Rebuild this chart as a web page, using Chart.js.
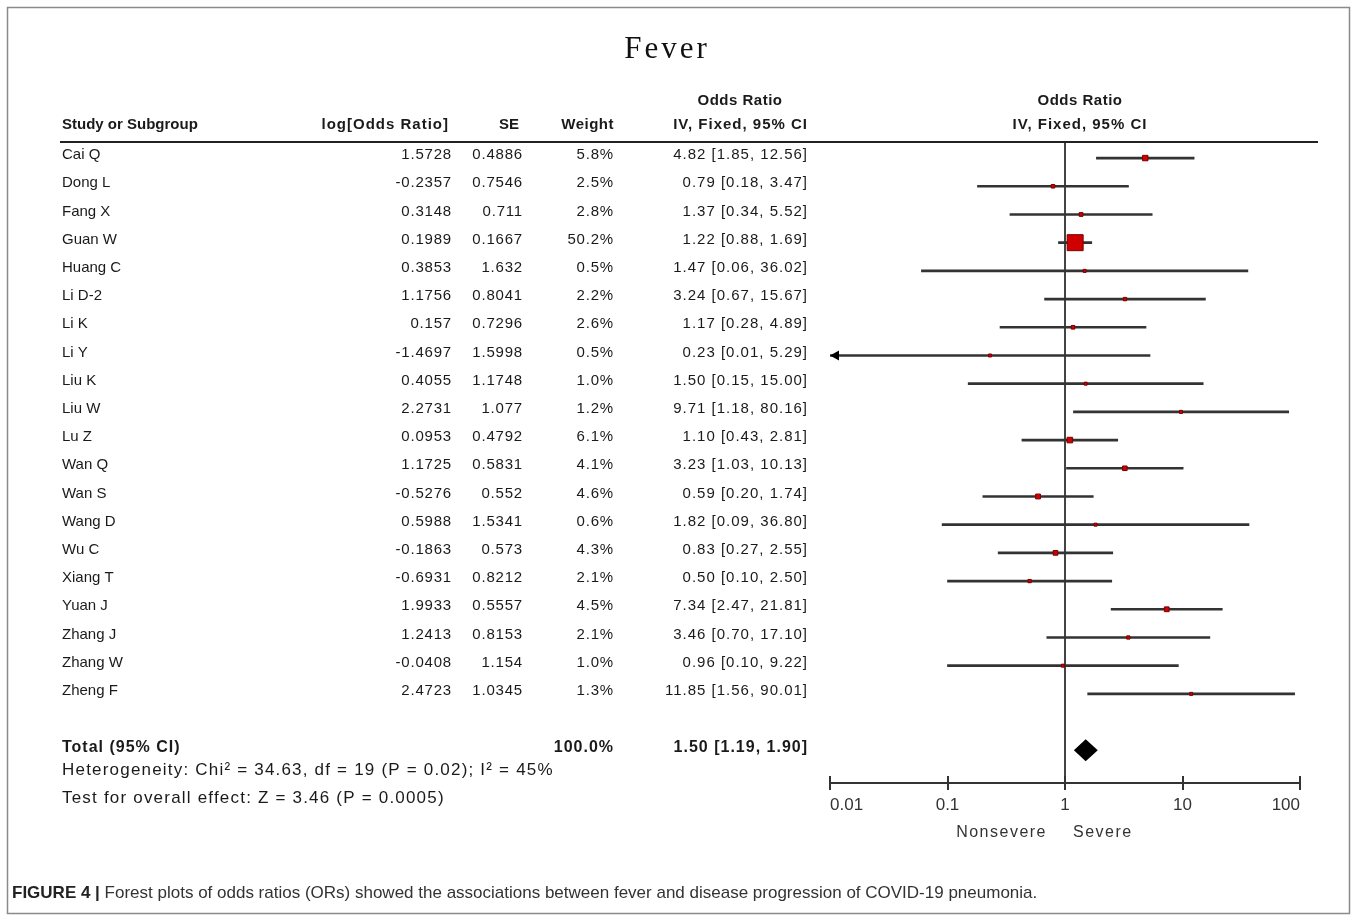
<!DOCTYPE html>
<html>
<head>
<meta charset="utf-8">
<script src="https://cdn.jsdelivr.net/npm/chart.js@4.4.1/dist/chart.umd.min.js"></script>
<style>
  html, body { margin: 0; padding: 0; background: #fff; }
</style>
</head>
<body>
<canvas id="forest" width="1357" height="920"></canvas>
<script>
// study data
const studies = ['Cai Q', 'Dong L', 'Fang X', 'Guan W', 'Huang C', 'Li D-2', 'Li K', 'Li Y', 'Liu K', 'Liu W',
  'Lu Z', 'Wan Q', 'Wan S', 'Wang D', 'Wu C', 'Xiang T', 'Yuan J', 'Zhang J', 'Zhang W', 'Zheng F'];
const logOR = [1.5728, -0.2357, 0.3148, 0.1989, 0.3853, 1.1756, 0.157, -1.4697, 0.4055, 2.2731,
  0.0953, 1.1725, -0.5276, 0.5988, -0.1863, -0.6931, 1.9933, 1.2413, -0.0408, 2.4723];
const se = [0.4886, 0.7546, 0.711, 0.1667, 1.632, 0.8041, 0.7296, 1.5998, 1.1748, 1.077,
  0.4792, 0.5831, 0.552, 1.5341, 0.573, 0.8212, 0.5557, 0.8153, 1.154, 1.0345];
const weight = [5.8, 2.5, 2.8, 50.2, 0.5, 2.2, 2.6, 0.5, 1.0, 1.2, 6.1, 4.1, 4.6, 0.6, 4.3, 2.1, 4.5, 2.1, 1.0, 1.3];
const oddsRatio = [4.82, 0.79, 1.37, 1.22, 1.47, 3.24, 1.17, 0.23, 1.50, 9.71,
  1.10, 3.23, 0.59, 1.82, 0.83, 0.50, 7.34, 3.46, 0.96, 11.85];
const ciLow = [1.85, 0.18, 0.34, 0.88, 0.06, 0.67, 0.28, 0.01, 0.15, 1.18,
  0.43, 1.03, 0.20, 0.09, 0.27, 0.10, 2.47, 0.70, 0.10, 1.56];
const ciHigh = [12.56, 3.47, 5.52, 1.69, 36.02, 15.67, 4.89, 5.29, 15.00, 80.16,
  2.81, 10.13, 1.74, 36.80, 2.55, 2.50, 21.81, 17.10, 9.22, 90.01];

const total = { label: 'Total (95% CI)', weight: 100.0, or: 1.50, low: 1.19, high: 1.90 };
const heterogeneity = 'Heterogeneity: Chi\u00b2 = 34.63, df = 19 (P = 0.02); I\u00b2 = 45%';
const overallTest = 'Test for overall effect: Z = 3.46 (P = 0.0005)';

const tickValues = [0.01, 0.1, 1, 10, 100];
const tickLabels = ['0.01', '0.1', '1', '10', '100'];
const favoursLeft = 'Nonsevere';
const favoursRight = 'Severe';

const title = 'Fever';
const captionBold = 'FIGURE 4 |';
const captionText = ' Forest plots of odds ratios (ORs) showed the associations between fever and disease progression of COVID-19 pneumonia.';

const SANS = '"Liberation Sans", Arial, sans-serif';
const TOTAL_ROW = studies.length + 1;
const fmt2 = v => v.toFixed(2);
const ciText = (o, l, h) => fmt2(o) + ' [' + fmt2(l) + ', ' + fmt2(h) + ']';

// marker side grows with sqrt(weight); Guan W (50.2%) is ~16px
const maxW = Math.max(...weight);
const markerRadius = weight.map(w => Math.max(3, 16 * Math.sqrt(w / maxW)) / 2 / Math.SQRT1_2);

function text(ctx, str, x, y, align, font, color, spacing) {
  ctx.font = font;
  ctx.letterSpacing = (spacing || 0) + 'px';
  ctx.textAlign = align;
  ctx.textBaseline = 'middle';
  ctx.fillStyle = color || '#1a1a1a';
  ctx.fillText(str, x, y);
  ctx.letterSpacing = '0px';
}

const forestPlugin = {
  id: 'forestTable',
  beforeDatasetsDraw(chart) {
    const { ctx, chartArea, scales: { x } } = chart;
    const x1 = Math.round(x.getPixelForValue(1));
    ctx.save();
    ctx.strokeStyle = '#444';
    ctx.lineWidth = 2;
    ctx.beginPath();
    ctx.moveTo(x1, chartArea.top);
    ctx.lineTo(x1, chartArea.bottom);
    ctx.stroke();
    ctx.restore();
  },
  afterDraw(chart) {
    const { ctx, chartArea, scales: { x, y } } = chart;
    ctx.save();

    // figure frame
    ctx.strokeStyle = '#8a8a8a';
    ctx.lineWidth = 1.5;
    ctx.strokeRect(7.5, 7.5, 1342, 906);

    // title
    text(ctx, title, 667, 50, 'center', '31px "Liberation Serif", serif', '#111', 3);

    // column headers
    const hb = 'bold 15px ' + SANS;
    text(ctx, 'Odds Ratio', 740, 101, 'center', hb, '#1a1a1a', 0.5);
    text(ctx, 'Odds Ratio', 1080, 101, 'center', hb, '#1a1a1a', 0.5);
    text(ctx, 'Study or Subgroup', 62, 125, 'left', hb);
    text(ctx, 'log[Odds Ratio]', 449, 125, 'right', hb, '#1a1a1a', 1);
    text(ctx, 'SE', 519, 125, 'right', hb);
    text(ctx, 'Weight', 614, 125, 'right', hb, '#1a1a1a', 0.5);
    text(ctx, 'IV, Fixed, 95% CI', 808, 125, 'right', hb, '#1a1a1a', 1);
    text(ctx, 'IV, Fixed, 95% CI', 1080, 125, 'center', hb, '#1a1a1a', 1);

    ctx.strokeStyle = '#222';
    ctx.lineWidth = 2;
    ctx.beginPath();
    ctx.moveTo(60, chartArea.top);
    ctx.lineTo(1318, chartArea.top);
    ctx.stroke();

    // study rows
    const rf = '15px ' + SANS;
    studies.forEach((name, i) => {
      const py = y.getPixelForValue(i) - 3;
      text(ctx, name, 62, py, 'left', rf);
      text(ctx, String(logOR[i]), 452, py, 'right', rf, '#1a1a1a', 0.8);
      text(ctx, String(se[i]), 523, py, 'right', rf, '#1a1a1a', 0.8);
      text(ctx, weight[i].toFixed(1) + '%', 614, py, 'right', rf, '#1a1a1a', 0.8);
      text(ctx, ciText(oddsRatio[i], ciLow[i], ciHigh[i]), 808, py, 'right', rf, '#1a1a1a', 1);
    });

    // total row
    const ty = y.getPixelForValue(TOTAL_ROW) - 3;
    const tb = 'bold 16px ' + SANS;
    text(ctx, total.label, 62, ty, 'left', tb, '#1a1a1a', 1);
    text(ctx, total.weight.toFixed(1) + '%', 614, ty, 'right', tb, '#1a1a1a', 1);
    text(ctx, ciText(total.or, total.low, total.high), 808, ty, 'right', tb, '#1a1a1a', 1);
    const ff = '17px ' + SANS;
    text(ctx, heterogeneity, 62, y.getPixelForValue(TOTAL_ROW + 0.8) - 3, 'left', ff, '#1a1a1a', 1.2);
    text(ctx, overallTest, 62, y.getPixelForValue(TOTAL_ROW + 1.8) - 3, 'left', ff, '#1a1a1a', 1.2);

    // summary diamond
    const dy = y.getPixelForValue(TOTAL_ROW);
    ctx.fillStyle = '#000';
    ctx.beginPath();
    ctx.moveTo(x.getPixelForValue(total.low), dy);
    ctx.lineTo(x.getPixelForValue(total.or), dy - 11);
    ctx.lineTo(x.getPixelForValue(total.high), dy);
    ctx.lineTo(x.getPixelForValue(total.or), dy + 11);
    ctx.closePath();
    ctx.fill();

    // arrows for intervals clipped at the axis minimum
    ciLow.forEach((l, i) => {
      if (l > x.min) return;
      const ay = y.getPixelForValue(i);
      const ax = x.getPixelForValue(x.min);
      ctx.beginPath();
      ctx.moveTo(ax, ay);
      ctx.lineTo(ax + 9, ay - 5);
      ctx.lineTo(ax + 9, ay + 5);
      ctx.closePath();
      ctx.fill();
    });

    // tick marks crossing the axis
    ctx.strokeStyle = '#333';
    ctx.lineWidth = 2;
    tickValues.forEach(v => {
      const px = Math.round(x.getPixelForValue(v));
      ctx.beginPath();
      ctx.moveTo(px, chartArea.bottom - 7);
      ctx.lineTo(px, chartArea.bottom + 7);
      ctx.stroke();
    });

    // favours labels
    const x1 = x.getPixelForValue(1);
    text(ctx, favoursLeft, x1 - 18, chartArea.bottom + 50, 'right', '16px ' + SANS, '#333', 1.5);
    text(ctx, favoursRight, x1 + 8, chartArea.bottom + 50, 'left', '16px ' + SANS, '#333', 1.5);

    // caption
    ctx.font = 'bold 17px ' + SANS;
    ctx.textAlign = 'left';
    ctx.textBaseline = 'middle';
    ctx.fillStyle = '#222';
    ctx.fillText(captionBold, 12, 893);
    const bw = ctx.measureText(captionBold).width;
    ctx.font = '17px ' + SANS;
    ctx.fillStyle = '#333';
    ctx.fillText(captionText, 12 + bw, 893);

    ctx.restore();
  }
};

new Chart(document.getElementById('forest'), {
  data: {
    datasets: [{
      type: 'bar',
      indexAxis: 'y',
      data: studies.map((s, i) => ({ x: [ciLow[i], ciHigh[i]], y: i })),
      backgroundColor: '#333',
      barThickness: 2,
      order: 2
    }, {
      type: 'line',
      showLine: false,
      data: studies.map((s, i) => ({ x: oddsRatio[i], y: i })),
      pointStyle: 'rect',
      pointRadius: markerRadius,
      pointBackgroundColor: '#d00000',
      pointBorderColor: '#7a0000',
      pointBorderWidth: 1,
      order: 1
    }]
  },
  options: {
    responsive: false,
    animation: false,
    events: [],
    layout: { padding: { left: 830, right: 57, top: 142, bottom: 77 } },
    plugins: { legend: { display: false }, tooltip: { enabled: false } },
    scales: {
      x: {
        type: 'logarithmic',
        min: 0.01,
        max: 100,
        afterBuildTicks: scale => { scale.ticks = tickValues.map(v => ({ value: v })); },
        afterFit: scale => { scale.height = 60; },
        ticks: {
          align: 'inner',
          padding: 12,
          color: '#333',
          font: { family: SANS, size: 17 },
          callback: (v) => tickLabels[tickValues.indexOf(v)]
        },
        grid: { display: true, drawOnChartArea: false, drawTicks: false },
        border: { display: true, color: '#333', width: 2 }
      },
      y: {
        type: 'linear',
        reverse: true,
        offset: false,
        min: -0.57,
        max: 22.16,
        display: false
      }
    }
  },
  plugins: [forestPlugin]
});
</script>
</body>
</html>
